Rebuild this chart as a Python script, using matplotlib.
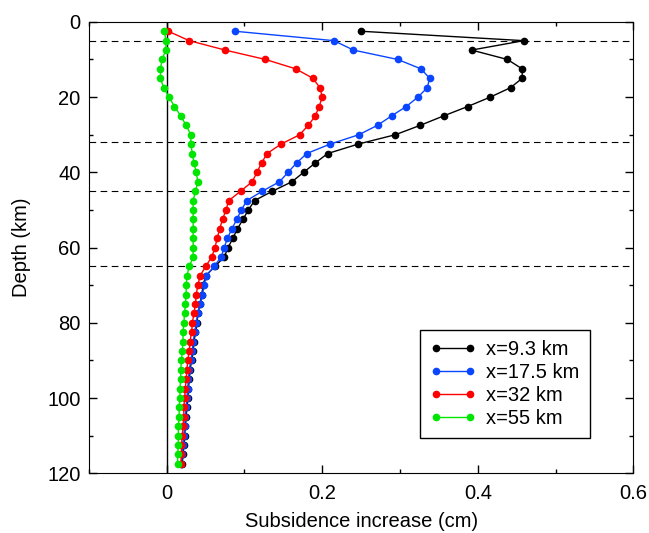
import numpy as np
import matplotlib
matplotlib.use('Agg')
import matplotlib.pyplot as plt
from matplotlib.ticker import MultipleLocator

plt.rcParams['font.family'] = ['Liberation Sans', 'DejaVu Sans']

# depth samples (km)
depth = np.arange(2.5, 118, 2.5)

# subsidence increase (cm) for each profile
x93 = [0.250, 0.459, 0.392, 0.438, 0.457, 0.457, 0.442, 0.416, 0.387, 0.356,
       0.326, 0.294, 0.246, 0.207, 0.191, 0.176, 0.161, 0.136, 0.113, 0.105,
       0.098, 0.091, 0.085, 0.079, 0.074, 0.062, 0.050, 0.047, 0.045, 0.043,
       0.040, 0.039, 0.037, 0.035, 0.034, 0.032, 0.030, 0.029, 0.028, 0.027,
       0.026, 0.025, 0.024, 0.023, 0.022, 0.021, 0.020]
x175 = [0.088, 0.215, 0.240, 0.297, 0.327, 0.338, 0.335, 0.323, 0.308, 0.289,
        0.271, 0.247, 0.210, 0.180, 0.167, 0.156, 0.145, 0.123, 0.103, 0.096,
        0.090, 0.084, 0.078, 0.074, 0.070, 0.061, 0.051, 0.048, 0.046, 0.043,
        0.040, 0.038, 0.036, 0.034, 0.033, 0.031, 0.029, 0.028, 0.027, 0.026,
        0.025, 0.024, 0.023, 0.022, 0.021, 0.020, 0.019]
x32 = [0.002, 0.029, 0.075, 0.127, 0.166, 0.188, 0.197, 0.200, 0.196, 0.191,
       0.182, 0.171, 0.147, 0.129, 0.122, 0.116, 0.110, 0.095, 0.080, 0.076,
       0.072, 0.068, 0.065, 0.062, 0.058, 0.050, 0.043, 0.040, 0.038, 0.037,
       0.035, 0.033, 0.032, 0.030, 0.029, 0.027, 0.026, 0.025, 0.024, 0.023,
       0.022, 0.022, 0.021, 0.020, 0.019, 0.019, 0.018]
x55 = [-0.003, -0.001, -0.001, -0.006, -0.008, -0.008, -0.004, 0.003, 0.010, 0.018,
       0.025, 0.031, 0.031, 0.033, 0.035, 0.038, 0.040, 0.037, 0.034, 0.034,
       0.034, 0.034, 0.034, 0.034, 0.034, 0.029, 0.026, 0.025, 0.025, 0.024,
       0.023, 0.022, 0.021, 0.021, 0.020, 0.019, 0.018, 0.018, 0.017, 0.017,
       0.016, 0.016, 0.015, 0.015, 0.015, 0.014, 0.014]

labels = ['x=9.3 km', 'x=17.5 km', 'x=32 km', 'x=55 km']
colors = ['black', '#0a46ff', '#ff0000', '#00e600']
boundaries = [5, 32, 45, 65]

fig = plt.figure(figsize=(6.49, 5.33), dpi=100)
ax = fig.add_axes([0.137, 0.112, 0.839, 0.847])

for b in boundaries:
    ax.axhline(b, color='black', lw=0.8, ls=(0, (6, 4)))
ax.axvline(0, color='black', lw=1)

for vals, lab, c in zip([x93, x175, x32, x55], labels, colors):
    ax.plot(vals, depth, color=c, lw=1, marker='o', ms=4.5, label=lab)

ax.set_xlim(-0.1, 0.6)
ax.set_ylim(120, 0)
ax.xaxis.set_major_locator(MultipleLocator(0.2))
ax.xaxis.set_minor_locator(MultipleLocator(0.1))
ax.yaxis.set_major_locator(MultipleLocator(20))
ax.yaxis.set_minor_locator(MultipleLocator(10))
ax.xaxis.set_major_formatter(plt.FuncFormatter(lambda v, p: f'{v:g}'))
ax.tick_params(which='both', direction='in', top=True, right=True, labelsize=14.5, width=1)
ax.tick_params(which='major', length=6)
ax.tick_params(which='minor', length=3)
ax.tick_params(axis='x', pad=7.5)
ax.tick_params(axis='y', pad=6)
ax.set_xlabel('Subsidence increase (cm)', fontsize=14.5, labelpad=7)
ax.set_ylabel('Depth (km)', fontsize=14.5, labelpad=12)

leg = ax.legend(loc='lower right', bbox_to_anchor=(0.92, 0.078), borderaxespad=0,
                fontsize=14.5, numpoints=2, fancybox=False, framealpha=1,
                edgecolor='black', handlelength=2.3, handletextpad=0.5,
                labelspacing=0.2, borderpad=0.5)
leg.get_frame().set_linewidth(1)

fig.savefig('out.png', dpi=100)
